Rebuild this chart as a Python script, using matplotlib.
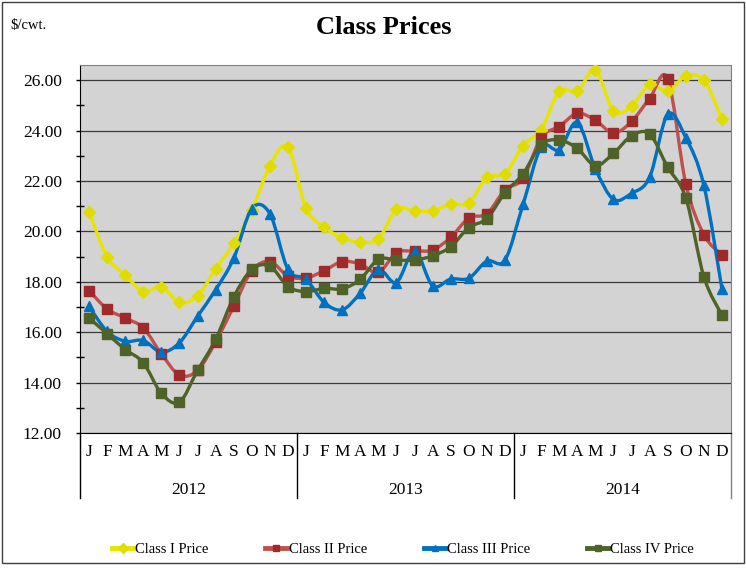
import numpy as np
import matplotlib
matplotlib.use('Agg')
import matplotlib.pyplot as plt
from matplotlib.path import Path
from matplotlib.patches import PathPatch, Rectangle
from matplotlib.lines import Line2D
import matplotlib.transforms as mtransforms

months = ["J", "F", "M", "A", "M", "J", "J", "A", "S", "O", "N", "D"]
years = ["2012", "2013", "2014"]

class_1 = [20.77, 18.99, 18.27, 17.61, 17.81, 17.18, 17.44, 18.51, 19.52, 20.83, 22.61, 23.33,
           20.92, 20.17, 19.74, 19.58, 19.69, 20.87, 20.81, 20.81, 21.09, 21.13, 22.15, 22.28,
           23.40, 24.03, 25.56, 25.56, 26.39, 24.78, 24.97, 25.83, 25.56, 26.16, 25.99, 24.47]
class_2 = [17.65, 16.92, 16.56, 16.17, 15.14, 14.30, 14.48, 15.61, 17.02, 18.44, 18.80, 18.23,
           18.15, 18.44, 18.80, 18.70, 18.37, 19.15, 19.22, 19.26, 19.76, 20.53, 20.70, 21.65,
           22.10, 23.72, 24.16, 24.68, 24.41, 23.90, 24.36, 25.27, 26.06, 21.89, 19.87, 19.06]
class_3 = [17.02, 16.03, 15.64, 15.67, 15.21, 15.58, 16.63, 17.68, 18.93, 20.90, 20.70, 18.49,
           18.10, 17.18, 16.89, 17.55, 18.49, 17.97, 19.23, 17.84, 18.11, 18.14, 18.82, 18.86,
           21.07, 23.33, 23.24, 24.32, 22.48, 21.27, 21.51, 22.15, 24.64, 23.72, 21.82, 17.71]
class_4 = [16.56, 15.94, 15.31, 14.79, 13.57, 13.23, 14.48, 15.71, 17.39, 18.49, 18.62, 17.81,
           17.61, 17.74, 17.72, 18.10, 18.89, 18.86, 18.86, 19.03, 19.39, 20.15, 20.51, 21.53,
           22.28, 23.44, 23.62, 23.29, 22.61, 23.09, 23.79, 23.86, 22.54, 21.33, 18.20, 16.67]

series = [
    ("Class I Price", class_1, "#E8E400", "#E0DC00", "D", 6.5),
    ("Class II Price", class_2, "#C0504D", "#9E2A2A", "s", 7),
    ("Class III Price", class_3, "#0070C0", "#0070C0", "^", 7),
    ("Class IV Price", class_4, "#4F6228", "#4F6228", "s", 7),
]


def smooth_path(x, y):
    # excel style smoothed line: catmull-rom segments as cubic beziers
    pts = np.column_stack([x, y]).astype(float)
    n = len(pts)
    verts = [pts[0]]
    codes = [Path.MOVETO]
    for i in range(n - 1):
        p0 = pts[i - 1] if i > 0 else pts[i]
        p1 = pts[i]
        p2 = pts[i + 1]
        p3 = pts[i + 2] if i + 2 < n else pts[i + 1]
        c1 = p1 + (p2 - p0) / 6.0
        c2 = p2 - (p3 - p1) / 6.0
        verts += [c1, c2, p2]
        codes += [Path.CURVE4] * 3
    return Path(verts, codes)


plt.rcParams['font.family'] = ['Liberation Serif', 'DejaVu Serif']

fig = plt.figure(figsize=(7.46, 5.68), dpi=100)
ax = fig.add_axes([80 / 746, 1 - 433 / 568, 651 / 746, 368 / 568])
ax.set_facecolor("#D3D3D3")

x = np.arange(36)
for name, vals, lc, mc, mk, ms in series:
    ax.add_patch(PathPatch(smooth_path(x, vals), fill=False, edgecolor=lc,
                           linewidth=2.4, zorder=3, capstyle='round'))
    ax.plot(x, vals, linestyle="none", marker=mk, markersize=ms,
            markerfacecolor=mc, markeredgecolor=mc, zorder=4)

ax.set_xlim(-0.5, 35.5)
ax.set_ylim(12, 26.6)
ax.set_yticks(np.arange(12, 27, 2))
ax.set_yticks(np.arange(13, 27, 2), minor=True)
ax.set_yticklabels([f"{v:.2f}" for v in np.arange(12, 27, 2)], fontsize=12.5)
ax.tick_params(axis='y', which='major', direction='out', length=3, width=1, pad=10)
ax.tick_params(axis='y', which='minor', direction='inout', length=6, width=1)
ax.yaxis.grid(True, color="#3A3A3A", linewidth=0.9)
ax.set_axisbelow(True)

ax.set_xticks(x)
ax.set_xticklabels(months * 3, fontsize=12.5)
ax.tick_params(axis='x', length=0, pad=8)

for side in ["top", "right"]:
    ax.spines[side].set_color("#808080")
ax.spines["bottom"].set_color("black")
ax.spines["left"].set_color("black")

# year row and separators under the axis
trans = mtransforms.blended_transform_factory(ax.transData, ax.transAxes)
drop = 65 / 368
for k, yr in enumerate(years):
    ax.text(k * 12 + 5.5, -(490 - 433) / 368, yr, transform=trans,
            ha="center", va="center", fontsize=12.5)
for xs, col in zip([-0.5, 11.5, 23.5, 35.5], ["black", "black", "black", "#808080"]):
    ax.add_line(Line2D([xs, xs], [0, -drop], transform=trans, color=col,
                       linewidth=1, clip_on=False))

fig.text(384 / 746, 1 - 28 / 568, "Class Prices", ha="center", va="center",
         fontsize=19, fontweight="bold")
fig.text(10 / 746, 1 - 25 / 568, "$/cwt.", ha="left", va="center", fontsize=10.5)

handles = [Line2D([], [], color=lc, linewidth=3.5, marker=mk, markersize=5,
                  markerfacecolor=mc, markeredgecolor=mc)
           for name, vals, lc, mc, mk, ms in series]
fig.legend(handles, [s[0] for s in series], loc="center", ncol=4,
           bbox_to_anchor=(403 / 746, 1 - 549 / 568), frameon=False,
           fontsize=10.5, handlelength=1.5, handletextpad=0.1, columnspacing=3.9)

fig.add_artist(Rectangle((2 / 746, 1 - 563 / 568), 742 / 746, 561 / 568,
                         transform=fig.transFigure, fill=False,
                         edgecolor="#404040", linewidth=1))

fig.savefig("out.png", dpi=100)
